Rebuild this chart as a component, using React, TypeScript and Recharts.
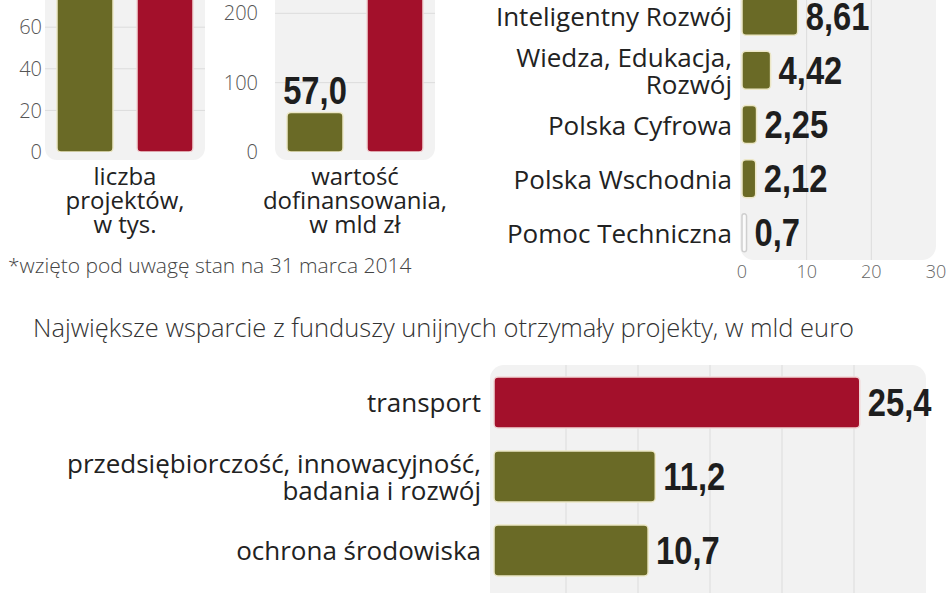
import React from "react";
import { BarChart, Bar, XAxis, YAxis, CartesianGrid, LabelList, Cell } from "recharts";

// liczba projektów, w tys.
const projectCategories = ["liczba\nprojektów,\nw tys."];
const projectsOlive = [87];
const projectsRed = [95];
const projectTicks = [0, 20, 40, 60, 80, 100];

// wartość dofinansowania, w mld zł
const fundingCategories = ["wartość\ndofinansowania,\nw mld zł"];
const fundingOlive = [57.0];
const fundingRed = [254];
const fundingTicks = [0, 100, 200, 300];

// programy operacyjne, w mld euro
const programmeNames = [
  "Infrastruktura i Środowisko",
  "Inteligentny Rozwój",
  "Wiedza, Edukacja,\nRozwój",
  "Polska Cyfrowa",
  "Polska Wschodnia",
  "Pomoc Techniczna",
];
const programmeValues = [27.41, 8.61, 4.42, 2.25, 2.12, 0.7];
const programmeTicks = [0, 10, 20, 30];

// największe wsparcie, w mld euro
const sectorNames = [
  "transport",
  "przedsiębiorczość, innowacyjność,\nbadania i rozwój",
  "ochrona środowiska",
];
const sectorValues = [25.4, 11.2, 10.7];

const OLIVE = "#6a6a26";
const OLIVE_EDGE = "#ece7c6";
const RED = "#a3102b";
const RED_EDGE = "#f1d6d6";
const PANEL = "#f2f2f2";
const GRID = "#dcdcdc";
const SANS = "'Open Sans', sans-serif";
const BOLD = "'Liberation Sans', sans-serif";

const projectData = projectCategories.map((name, i) => ({ name, a: projectsOlive[i], b: projectsRed[i] }));
const fundingData = fundingCategories.map((name, i) => ({ name, a: fundingOlive[i], b: fundingRed[i] }));
const programmeData = programmeNames.map((name, i) => ({ name, value: programmeValues[i] }));
const sectorData = sectorNames.map((name, i) => ({ name, value: sectorValues[i] }));

const comma = (v: number, digits?: number) =>
  (digits === undefined ? String(v) : v.toFixed(digits)).replace(".", ",");

const MultiLineX = (props: any) => {
  const { x, y, payload } = props;
  const lines = String(payload.value).split("\n");
  return (
    <text x={x} y={y} textAnchor="middle" fill="#222" fontSize={24} fontFamily={SANS}>
      {lines.map((l, i) => (
        <tspan key={i} x={x} y={y + 33 + i * 24}>
          {l}
        </tspan>
      ))}
    </text>
  );
};

const makeMultiLineY = (size: number, lh: number) => (props: any) => {
  const { x, y, payload } = props;
  const lines = String(payload.value).split("\n");
  const start = y - ((lines.length - 1) * lh) / 2;
  return (
    <text x={x} y={start} textAnchor="end" fill="#222" fontSize={size} fontFamily={SANS} dominantBaseline="central">
      {lines.map((l, i) => (
        <tspan key={i} x={x} y={start + i * lh}>
          {l}
        </tspan>
      ))}
    </text>
  );
};

// bold, narrowed value label
const ValueText = ({ x, y, anchor, baseline, children }: any) => (
  <text
    transform={`translate(${x},${y}) scale(0.84,1)`}
    x={0}
    y={0}
    textAnchor={anchor}
    dominantBaseline={baseline}
    fill="#1e1e1e"
    fontSize={39}
    fontWeight="bold"
    fontFamily={BOLD}
  >
    {children}
  </text>
);

const topLabel = (digits: number) => (props: any) => {
  const { x, y, width, value } = props;
  return (
    <ValueText x={x + width / 2} y={y - 8} anchor="middle" baseline="auto">
      {comma(value, digits)}
    </ValueText>
  );
};

const rightLabel = (digits?: number) => (props: any) => {
  const { x, y, width, height, value } = props;
  return (
    <ValueText x={x + width + 8} y={y + height / 2} anchor="start" baseline="central">
      {comma(value, digits)}
    </ValueText>
  );
};

const panel = (left: number, top: number, width: number, height: number, radius: string) => (
  <div style={{ position: "absolute", left, top, width, height, background: PANEL, borderRadius: radius }} />
);

const VerticalPair = ({ data, ticks, domain, axisWidth, tickMargin, digits }: any) => (
  <BarChart width={axisWidth + 200} height={308} data={data} margin={{ top: 10, right: 40, left: 0, bottom: 0 }} barGap={24}>
    <CartesianGrid vertical={false} stroke={GRID} horizontalValues={ticks.slice(1)} />
    <XAxis dataKey="name" axisLine={false} tickLine={false} tickSize={0} tickMargin={0} height={90} tick={<MultiLineX />} interval={0} />
    <YAxis
      type="number"
      domain={domain}
      ticks={ticks}
      width={axisWidth}
      axisLine={false}
      tickLine={false}
      tickSize={0}
      tickMargin={tickMargin}
      allowDataOverflow
      tick={{ fill: "#555", fontSize: 20, fontFamily: SANS, fontWeight: 300 }}
    />
    <Bar dataKey="a" fill={OLIVE} stroke={OLIVE_EDGE} strokeWidth={1.5} radius={4} barSize={56} isAnimationActive={false}>
      <LabelList dataKey="a" content={topLabel(digits)} />
    </Bar>
    <Bar dataKey="b" fill={RED} stroke={RED_EDGE} strokeWidth={1.5} radius={4} barSize={56} isAnimationActive={false}>
      <LabelList dataKey="b" content={topLabel(digits)} />
    </Bar>
  </BarChart>
);

export default function App() {
  return (
    <div style={{ position: "relative", width: 948, height: 593, overflow: "hidden", background: "#fff", fontFamily: SANS }}>
      <style>{`body{margin:0}`}</style>

      {panel(45, -20, 160, 180, "0 0 12px 12px")}
      {panel(275, -20, 160, 180, "0 0 12px 12px")}
      {panel(740, -20, 196, 280, "0 0 14px 14px")}
      {panel(490, 365, 436, 260, "14px 14px 0 0")}

      <div style={{ position: "absolute", left: 0, top: -66 }}>
        <VerticalPair data={projectData} ticks={projectTicks} domain={[0, 100]} axisWidth={45} tickMargin={3} digits={1} />
      </div>
      <div style={{ position: "absolute", left: 205, top: -66 }}>
        <VerticalPair data={fundingData} ticks={fundingTicks} domain={[0, 300]} axisWidth={70} tickMargin={17} digits={1} />
      </div>

      <div style={{ position: "absolute", left: 8, top: 251, fontSize: 21, color: "#444", fontWeight: 300, whiteSpace: "nowrap" }}>
        *wzięto pod uwagę stan na 31 marca 2014
      </div>

      <div style={{ position: "absolute", left: 480, top: -75 }}>
        <BarChart width={468} height={365} data={programmeData} layout="vertical" margin={{ top: 10, right: 12, left: 0, bottom: 0 }}>
          <CartesianGrid horizontal={false} stroke={GRID} verticalValues={[10, 20]} />
          <XAxis
            type="number"
            domain={[0, 30]}
            ticks={programmeTicks}
            axisLine={false}
            tickLine={false}
            tickSize={0}
            tickMargin={5}
            height={30}
            tick={{ fill: "#666", fontSize: 18, fontFamily: SANS, fontWeight: 300 }}
          />
          <YAxis
            type="category"
            dataKey="name"
            width={262}
            axisLine={false}
            tickLine={false}
            tickSize={0}
            tickMargin={10}
            interval={0}
            tick={makeMultiLineY(26, 27)}
          />
          <Bar dataKey="value" fill={OLIVE} stroke={OLIVE_EDGE} strokeWidth={1.5} radius={4} barSize={38} isAnimationActive={false}>
            {programmeData.map((d, i) => (
              <Cell key={i} fill={i === programmeData.length - 1 ? "#fbfbfb" : OLIVE} stroke={i === programmeData.length - 1 ? "#cfcfcf" : OLIVE_EDGE} />
            ))}
            <LabelList dataKey="value" content={rightLabel()} />
          </Bar>
        </BarChart>
      </div>

      <div style={{ position: "absolute", left: 33, top: 310, fontSize: 25.5, color: "#333", fontWeight: 300, whiteSpace: "nowrap" }}>
        Największe wsparcie z funduszy unijnych otrzymały projekty, w mld euro
      </div>

      <div style={{ position: "absolute", left: 0, top: 355 }}>
        <BarChart width={948} height={262} data={sectorData} layout="vertical" margin={{ top: 10, right: 22, left: 0, bottom: 0 }}>
          <CartesianGrid horizontal={false} stroke={GRID} verticalValues={[5, 10, 15, 20, 25]} />
          <XAxis type="number" domain={[0, 30]} hide />
          <YAxis
            type="category"
            dataKey="name"
            width={494}
            axisLine={false}
            tickLine={false}
            tickSize={0}
            tickMargin={13}
            interval={0}
            padding={{ top: 0, bottom: 30 }}
            tick={makeMultiLineY(26, 27)}
          />
          <Bar dataKey="value" barSize={51} radius={4} strokeWidth={1.5} isAnimationActive={false}>
            {sectorData.map((d, i) => (
              <Cell key={i} fill={i === 0 ? RED : OLIVE} stroke={i === 0 ? RED_EDGE : OLIVE_EDGE} />
            ))}
            <LabelList dataKey="value" content={rightLabel(1)} />
          </Bar>
        </BarChart>
      </div>
    </div>
  );
}
